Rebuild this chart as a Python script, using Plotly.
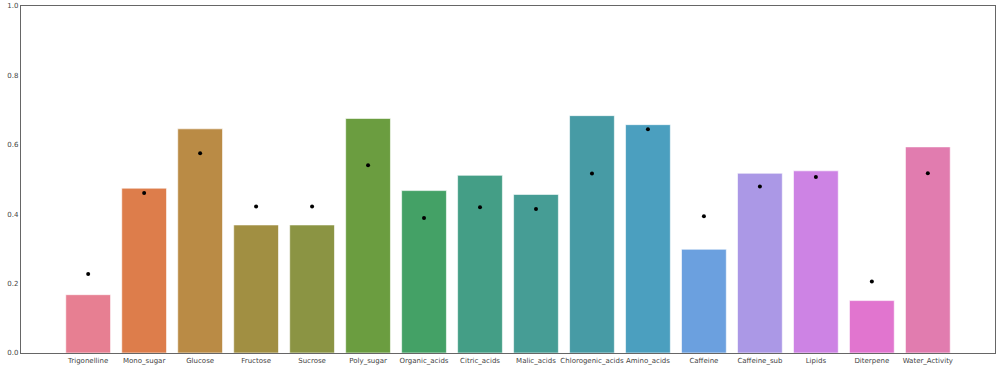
import plotly.graph_objects as go

categories = ["Trigonelline", "Mono_sugar", "Glucose", "Fructose", "Sucrose", "Poly_sugar",
              "Organic_acids", "Citric_acids", "Malic_acids", "Chlorogenic_acids", "Amino_acids",
              "Caffeine", "Caffeine_sub", "Lipids", "Diterpene", "Water_Activity"]
bar_values = [0.168, 0.475, 0.646, 0.369, 0.369, 0.676, 0.468, 0.512, 0.457, 0.684, 0.658,
              0.299, 0.518, 0.525, 0.151, 0.594]
dot_values = [0.228, 0.461, 0.576, 0.422, 0.422, 0.541, 0.389, 0.420, 0.415, 0.517, 0.645,
              0.394, 0.480, 0.507, 0.206, 0.518]
bar_colors = ["#e77f92", "#dd7d4b", "#ba8b45", "#a18f42", "#8b9443", "#6b9d40", "#44a166",
              "#449e86", "#469d95", "#479ba5", "#4b9fbf", "#6ba0df", "#ab98e6", "#cd83e4",
              "#e175cf", "#e17caf"]
y_ticks = [0.0, 0.2, 0.4, 0.6, 0.8, 1.0]

fig = go.Figure()
fig.add_trace(go.Bar(
    x=list(range(len(categories))), y=bar_values, width=0.8,
    marker=dict(color=bar_colors, line=dict(color="rgba(255,255,255,0.6)", width=1)),
    showlegend=False,
))
fig.add_trace(go.Scatter(
    x=list(range(len(categories))), y=dot_values, mode="markers",
    marker=dict(color="black", size=4), showlegend=False,
))

fig.update_layout(
    width=1000, height=370,
    margin=dict(l=21, r=5, t=6, b=17, autoexpand=False),
    plot_bgcolor="white", paper_bgcolor="white",
    font=dict(family="DejaVu Sans", size=7, color="#444444"),
    bargap=0.2,
)
fig.update_xaxes(
    range=[-1.2, 16.2], tickmode="array",
    tickvals=list(range(len(categories))), ticktext=categories,
    showgrid=False, zeroline=False, showline=True, linecolor="#666666", linewidth=1.3,
    mirror=True, ticks="", ticklen=0, tickangle=0,
    tickfont=dict(size=7, color="#444444"),
)
fig.update_yaxes(
    range=[0, 1.0], tickmode="array", tickvals=y_ticks,
    ticktext=[f"{v:.1f}" for v in y_ticks],
    showgrid=False, zeroline=False, showline=True, linecolor="#666666", linewidth=1.3,
    mirror=True, ticks="", ticklen=0,
    tickfont=dict(size=7, color="#444444"),
)

fig.write_html("out.html", config={"displayModeBar": False},
               post_script="document.body.style.margin='0';document.body.style.overflow='hidden';")
